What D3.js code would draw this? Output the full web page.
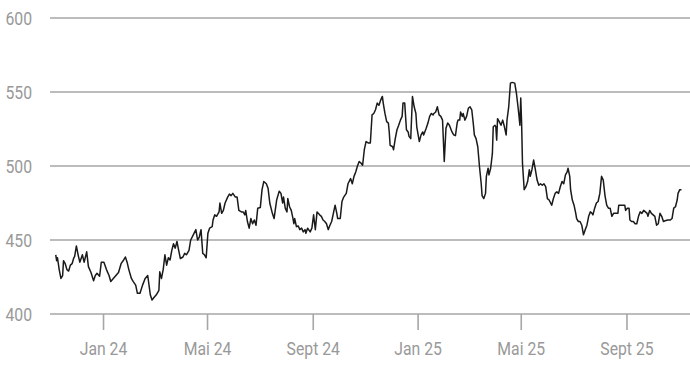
<!DOCTYPE html>
<html>
<head>
<meta charset="utf-8">
<script src="https://cdn.jsdelivr.net/npm/d3@7"></script>
<style>
  html, body { margin: 0; padding: 0; background: #fff; }
  #chart text { font-family: Roboto, "Noto Sans", sans-serif; }
</style>
</head>
<body>
<div id="chart"></div>
<script>
// closing values, [date, value]
const closes2023 = [
  ['2023-11-07', 440], ['2023-11-08', 436], ['2023-11-09', 438], ['2023-11-11', 430],
  ['2023-11-13', 424], ['2023-11-15', 426], ['2023-11-16', 436], ['2023-11-18', 434],
  ['2023-11-20', 430], ['2023-11-22', 429], ['2023-11-24', 433], ['2023-11-26', 434],
  ['2023-11-28', 438], ['2023-11-29', 439], ['2023-12-01', 446], ['2023-12-03', 440],
  ['2023-12-05', 435], ['2023-12-08', 440], ['2023-12-10', 435], ['2023-12-13', 442],
  ['2023-12-15', 432], ['2023-12-18', 428], ['2023-12-21', 422.5], ['2023-12-23', 426],
  ['2023-12-25', 427.5], ['2023-12-28', 425.5], ['2023-12-30', 435]
]

const closes2024 = [
  ['2024-01-02', 435], ['2024-01-05', 430], ['2024-01-08', 426], ['2024-01-10', 422],
  ['2024-01-13', 424], ['2024-01-16', 426], ['2024-01-19', 428], ['2024-01-22', 434],
  ['2024-01-25', 436.5], ['2024-01-27', 438.5], ['2024-01-29', 435], ['2024-01-31', 430],
  ['2024-02-03', 424], ['2024-02-05', 422], ['2024-02-08', 419.5], ['2024-02-10', 414],
  ['2024-02-13', 414], ['2024-02-16', 419.5], ['2024-02-19', 424], ['2024-02-22', 426],
  ['2024-02-25', 413], ['2024-02-27', 409.5], ['2024-02-29', 411], ['2024-03-03', 413],
  ['2024-03-06', 416], ['2024-03-07', 428.5], ['2024-03-09', 424], ['2024-03-11', 430],
  ['2024-03-13', 440], ['2024-03-15', 433], ['2024-03-17', 438], ['2024-03-19', 436.5],
  ['2024-03-21', 443], ['2024-03-23', 447.5], ['2024-03-25', 444.5], ['2024-03-27', 449],
  ['2024-03-29', 443], ['2024-03-31', 437.5], ['2024-04-03', 438.5], ['2024-04-05', 441],
  ['2024-04-07', 440], ['2024-04-10', 443], ['2024-04-12', 450], ['2024-04-15', 453.5],
  ['2024-04-18', 457], ['2024-04-20', 450], ['2024-04-22', 452], ['2024-04-24', 457],
  ['2024-04-26', 441], ['2024-04-28', 440], ['2024-04-30', 438], ['2024-05-02', 454.5],
  ['2024-05-04', 458], ['2024-05-07', 459], ['2024-05-08', 463.5], ['2024-05-10', 467],
  ['2024-05-12', 466], ['2024-05-15', 469], ['2024-05-16', 475], ['2024-05-18', 468],
  ['2024-05-20', 470], ['2024-05-22', 475], ['2024-05-25', 479], ['2024-05-27', 481],
  ['2024-05-29', 480], ['2024-05-31', 481.5], ['2024-06-03', 479], ['2024-06-05', 479],
  ['2024-06-07', 470], ['2024-06-10', 469], ['2024-06-12', 469], ['2024-06-14', 467],
  ['2024-06-15', 470], ['2024-06-17', 462.5], ['2024-06-19', 458], ['2024-06-21', 464.5],
  ['2024-06-23', 461], ['2024-06-25', 463.5], ['2024-06-27', 460], ['2024-06-29', 471.5],
  ['2024-07-02', 472], ['2024-07-04', 484], ['2024-07-06', 489.5], ['2024-07-09', 488],
  ['2024-07-11', 485], ['2024-07-13', 475], ['2024-07-16', 468], ['2024-07-18', 464.5],
  ['2024-07-21', 477], ['2024-07-24', 483], ['2024-07-26', 481.5], ['2024-07-28', 475],
  ['2024-07-29', 479], ['2024-07-31', 471.5], ['2024-08-02', 469], ['2024-08-03', 478],
  ['2024-08-05', 472.5], ['2024-08-07', 470], ['2024-08-09', 464.5], ['2024-08-10', 461],
  ['2024-08-11', 464.5], ['2024-08-13', 459], ['2024-08-15', 459.5], ['2024-08-17', 457],
  ['2024-08-19', 458], ['2024-08-21', 455.5], ['2024-08-23', 457], ['2024-08-24', 454.5],
  ['2024-08-26', 458], ['2024-08-29', 455.5], ['2024-08-31', 458], ['2024-09-02', 467],
  ['2024-09-04', 457], ['2024-09-06', 469], ['2024-09-09', 467], ['2024-09-11', 466],
  ['2024-09-13', 463.5], ['2024-09-15', 462.5], ['2024-09-17', 461], ['2024-09-19', 457],
  ['2024-09-21', 460], ['2024-09-23', 462.5], ['2024-09-25', 468], ['2024-09-27', 473.5],
  ['2024-09-29', 468], ['2024-09-30', 464.5], ['2024-10-03', 464.5], ['2024-10-05', 476],
  ['2024-10-07', 479], ['2024-10-10', 481.5], ['2024-10-12', 488], ['2024-10-15', 491.5],
  ['2024-10-17', 488], ['2024-10-19', 493], ['2024-10-21', 496], ['2024-10-23', 500],
  ['2024-10-25', 503], ['2024-10-27', 502], ['2024-10-29', 500.5], ['2024-10-31', 511],
  ['2024-11-02', 516.5], ['2024-11-05', 515.5], ['2024-11-07', 515.5], ['2024-11-09', 534.5],
  ['2024-11-11', 535.5], ['2024-11-13', 538], ['2024-11-15', 542.5], ['2024-11-17', 541],
  ['2024-11-19', 544.5], ['2024-11-21', 547], ['2024-11-22', 542.5], ['2024-11-24', 535.5],
  ['2024-11-26', 530], ['2024-11-28', 529], ['2024-11-29', 523], ['2024-11-30', 514],
  ['2024-12-03', 513], ['2024-12-04', 511], ['2024-12-06', 518.5], ['2024-12-08', 524.5],
  ['2024-12-10', 527.5], ['2024-12-12', 531], ['2024-12-14', 533.5], ['2024-12-15', 542.5],
  ['2024-12-17', 542.5], ['2024-12-19', 524.5], ['2024-12-21', 523], ['2024-12-22', 520],
  ['2024-12-24', 518.5], ['2024-12-26', 547], ['2024-12-28', 540], ['2024-12-30', 535.5],
  ['2024-12-31', 526.5]
]

const closes2025 = [
  ['2025-01-03', 516.5], ['2025-01-05', 521], ['2025-01-07', 523], ['2025-01-08', 521],
  ['2025-01-11', 525.5], ['2025-01-13', 529], ['2025-01-15', 533.5], ['2025-01-17', 535.5],
  ['2025-01-19', 534.5], ['2025-01-20', 535.5], ['2025-01-22', 536.5], ['2025-01-24', 540],
  ['2025-01-26', 534.5], ['2025-01-28', 533.5], ['2025-01-30', 531], ['2025-02-01', 503],
  ['2025-02-03', 525.5], ['2025-02-05', 529], ['2025-02-07', 527.5], ['2025-02-10', 523],
  ['2025-02-12', 521], ['2025-02-14', 520.5], ['2025-02-16', 529], ['2025-02-17', 531],
  ['2025-02-19', 531], ['2025-02-20', 536.5], ['2025-02-22', 533.5], ['2025-02-23', 535.5],
  ['2025-02-25', 531], ['2025-02-27', 533.5], ['2025-03-01', 539], ['2025-03-03', 540],
  ['2025-03-05', 538], ['2025-03-07', 527.5], ['2025-03-08', 521], ['2025-03-10', 518.5],
  ['2025-03-12', 513], ['2025-03-14', 499.5], ['2025-03-16', 488], ['2025-03-17', 480],
  ['2025-03-19', 478], ['2025-03-21', 481.5], ['2025-03-22', 493], ['2025-03-24', 498.5],
  ['2025-03-25', 494], ['2025-03-27', 498.5], ['2025-03-29', 508.5], ['2025-03-30', 526.5],
  ['2025-04-01', 527.5], ['2025-04-02', 526.5], ['2025-04-03', 517.5], ['2025-04-04', 532],
  ['2025-04-06', 530], ['2025-04-08', 527.5], ['2025-04-10', 531], ['2025-04-12', 526.5],
  ['2025-04-14', 521], ['2025-04-15', 531], ['2025-04-17', 540], ['2025-04-19', 556],
  ['2025-04-21', 556.5], ['2025-04-24', 556], ['2025-04-26', 549], ['2025-04-28', 539],
  ['2025-04-29', 533.5], ['2025-04-30', 527.5], ['2025-05-01', 546], ['2025-05-02', 529],
  ['2025-05-03', 502], ['2025-05-05', 484], ['2025-05-07', 486], ['2025-05-09', 489.5],
  ['2025-05-11', 497.5], ['2025-05-12', 493], ['2025-05-14', 497.5], ['2025-05-16', 504],
  ['2025-05-18', 497.5], ['2025-05-20', 490.5], ['2025-05-22', 487], ['2025-05-24', 488],
  ['2025-05-26', 487], ['2025-05-28', 488], ['2025-05-30', 486], ['2025-06-01', 478],
  ['2025-06-03', 477], ['2025-06-06', 473.5], ['2025-06-08', 478], ['2025-06-10', 481.5],
  ['2025-06-12', 482.5], ['2025-06-14', 481.5], ['2025-06-16', 486], ['2025-06-18', 489.5],
  ['2025-06-20', 488], ['2025-06-22', 494], ['2025-06-24', 496], ['2025-06-25', 498.5],
  ['2025-06-27', 493], ['2025-06-28', 484], ['2025-06-30', 477], ['2025-07-02', 473.5],
  ['2025-07-04', 468], ['2025-07-05', 464.5], ['2025-07-07', 462.5], ['2025-07-09', 462.5],
  ['2025-07-11', 460], ['2025-07-13', 453.5], ['2025-07-15', 457], ['2025-07-17', 460],
  ['2025-07-19', 466], ['2025-07-21', 469], ['2025-07-23', 468], ['2025-07-24', 467],
  ['2025-07-26', 471.5], ['2025-07-28', 475], ['2025-07-30', 476], ['2025-08-01', 481.5],
  ['2025-08-03', 493], ['2025-08-05', 490.5], ['2025-08-07', 480], ['2025-08-09', 473.5],
  ['2025-08-11', 471.5], ['2025-08-13', 471.5], ['2025-08-15', 466], ['2025-08-17', 468],
  ['2025-08-20', 468], ['2025-08-22', 468], ['2025-08-23', 473.5], ['2025-08-27', 473.5],
  ['2025-08-30', 473.5], ['2025-08-31', 470], ['2025-09-02', 471.5], ['2025-09-04', 471.5],
  ['2025-09-05', 463.5], ['2025-09-07', 462.5], ['2025-09-09', 462.5], ['2025-09-11', 461],
  ['2025-09-13', 461], ['2025-09-15', 466], ['2025-09-17', 469], ['2025-09-19', 468],
  ['2025-09-21', 470], ['2025-09-23', 469], ['2025-09-25', 468], ['2025-09-26', 466],
  ['2025-09-28', 470], ['2025-09-30', 468], ['2025-10-02', 467], ['2025-10-04', 466],
  ['2025-10-06', 460], ['2025-10-08', 461], ['2025-10-10', 468], ['2025-10-12', 466],
  ['2025-10-14', 462.5], ['2025-10-16', 463], ['2025-10-19', 463.5], ['2025-10-22', 463.5],
  ['2025-10-24', 464.5], ['2025-10-26', 471.5], ['2025-10-28', 472.5], ['2025-10-30', 477],
  ['2025-10-31', 481.5], ['2025-11-02', 484], ['2025-11-04', 484]
]

const yTicks = [400, 450, 500, 550, 600]
const monthNames = { 0: 'Jan', 4: 'Mai', 8: 'Sept' }

const width = 690
const height = 388
const gridColor = '#a6a6a6'
const labelColor = '#999999'
const lineColor = '#1a1a1a'
const squeeze = 'scale(0.83,1)'

const data = [...closes2023, ...closes2024, ...closes2025]
  .map(([d, v]) => ({ date: new Date(d + 'T00:00:00Z'), value: v }))

const svg = d3.select('#chart')
  .append('svg')
    .attr('width', width)
    .attr('height', height)

const x = d3.scaleUtc()
  .domain([new Date('2023-11-01T00:00:00Z'), new Date('2025-11-01T00:00:00Z')])
  .range([50.6, 678.9])

const y = d3.scaleLinear()
  .domain([400, 600])
  .range([314, 18])

// horizontal grid
svg.append('g')
  .attr('class', 'grid')
  .selectAll('line')
  .data(yTicks)
  .join('line')
    .attr('x1', 50)
    .attr('x2', width)
    .attr('y1', d => y(d))
    .attr('y2', d => y(d))
    .attr('stroke', gridColor)
    .attr('stroke-width', 1.6)

// y labels
svg.append('g')
  .attr('class', 'axe-y')
  .selectAll('g')
  .data(yTicks)
  .join('g')
    .attr('transform', d => `translate(32,${y(d)})`)
  .append('text')
    .attr('transform', squeeze)
    .attr('text-anchor', 'end')
    .attr('dy', '0.36em')
    .style('font-size', '19px')
    .style('fill', labelColor)
    .text(d => d)

// x axis
const xAxis = svg.append('g')
  .attr('class', 'axe-x')
  .attr('transform', `translate(0,${y(400)})`)
  .call(
    d3.axisBottom(x)
      .ticks(d3.utcMonth.filter(d => d.getUTCMonth() % 4 === 0))
      .tickSize(16)
      .tickPadding(12)
      .tickFormat(d => monthNames[d.getUTCMonth()] + ' ' + d3.utcFormat('%y')(d))
  )

xAxis.select('.domain').remove()

xAxis.selectAll('.tick line')
  .attr('stroke', gridColor)
  .attr('stroke-width', 1.6)

xAxis.selectAll('.tick text')
  .attr('transform', squeeze)
  .style('font-size', '19px')
  .style('fill', labelColor)

// price line
const line = d3.line()
  .x(d => x(d.date))
  .y(d => y(d.value))

svg.append('path')
  .datum(data)
  .attr('fill', 'none')
  .attr('stroke', lineColor)
  .attr('stroke-width', 1.5)
  .attr('stroke-linejoin', 'round')
  .attr('d', line)
</script>
</body>
</html>
